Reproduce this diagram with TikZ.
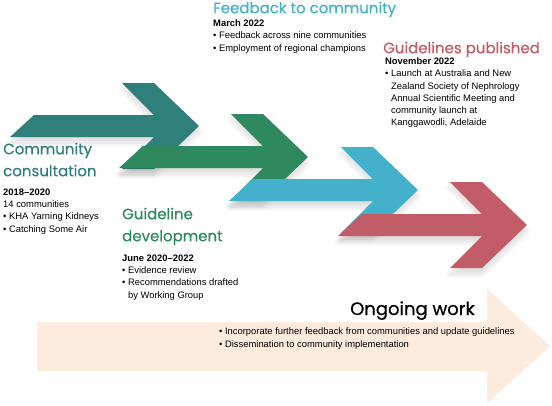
\documentclass[tikz,border=0pt]{standalone}
\usepackage{fontspec}
\setmainfont{Liberation Sans}
\newfontfamily\headfont[FakeBold=0.6]{Poppins}
\usetikzlibrary{shadows.blur}
\definecolor{stageTeal}{HTML}{2F7F7B}
\definecolor{stageGreen}{HTML}{2E8A5E}
\definecolor{stageBlue}{HTML}{43B0CC}
\definecolor{stageRed}{HTML}{C25D67}
\definecolor{ongoingPeach}{HTML}{FDEBDE}
\tikzset{
  stageArrow/.style={fill=#1, blur shadow={shadow xshift=0pt, shadow yshift=-6pt,
                     shadow blur radius=5pt, shadow blur steps=12, shadow opacity=14}},
  headText/.style={anchor=north west, inner sep=0pt, align=left, text=#1,
                   font=\headfont\fontsize{15}{22}\selectfont,
                   execute at begin node=\strut},
  bodyText/.style={anchor=north west, inner sep=0pt, align=left,
                   font=\fontsize{9.4}{12.3}\selectfont,
                   execute at begin node=\strut},
}

\begin{document}
\begin{tikzpicture}[x=1pt, y=-1pt]
    \useasboundingbox (0,0) rectangle (552,405);
    % ongoing work arrow
    \fill[ongoingPeach] (37,322) -- (487,322) -- (487,289) -- (550,346)
      -- (487,403) -- (487,371) -- (37,371) -- cycle;
    % stage arrows, each laid over the one before
    \foreach \tipx/\tipy/\col in {199/126/stageTeal, 308/157/stageGreen,
                                  418/190/stageBlue, 527/225/stageRed}
      \path[stageArrow=\col, shift={(\tipx,\tipy)}] (0,0) -- (-45,-43) -- (-77,-43)
        -- (-45,-11) -- (-165,-11) -- (-189,11) -- (-45,11) -- (-77,43)
        -- (-45,43) -- cycle;

    \node[headText=stageBlue] (feedHead) at (213,-2.4) {Feedback to community};
    \node[bodyText] (feedBody) at (213,19.4)
      {\textbf{March 2022}\\• Feedback across nine communities\\• Employment of regional champions};

    \node[headText=stageRed] (pubHead) at (383,37.6) {Guidelines published};
    \node[bodyText] (pubBody) at (385,57.4)
      {\textbf{November 2022}\\• Launch at Australia and New\\\phantom{• }Zealand Society of Nephrology\\
       \phantom{• }Annual Scientific Meeting and\\\phantom{• }community launch at\\
       \phantom{• }Kanggawodli, Adelaide};

    \node[headText=stageTeal] (consHead) at (3,142.6) {Community\\consultation};
    \node[bodyText] (consBody) at (3,188.4)
      {\textbf{2018–2020}\\14 communities\\• KHA Yarning Kidneys\\• Catching Some Air};

    \node[headText=stageGreen] (devHead) at (122,207.6) {Guideline\\development};
    \node[bodyText] (devBody) at (122,254.4)
      {\textbf{June 2020–2022}\\• Evidence review\\• Recommendations drafted\\\phantom{• }by Working Group};

    \node[anchor=base west, inner sep=0pt, font=\headfont\fontsize{18}{22}\selectfont]
      (ongoingHead) at (350,315) {Ongoing work};
    \node[bodyText, font=\fontsize{9.4}{13}\selectfont] (ongoingBody) at (219,327.9)
      {• Incorporate further feedback from communities and update guidelines\\
       • Dissemination to community implementation};
\end{tikzpicture}
\end{document}
